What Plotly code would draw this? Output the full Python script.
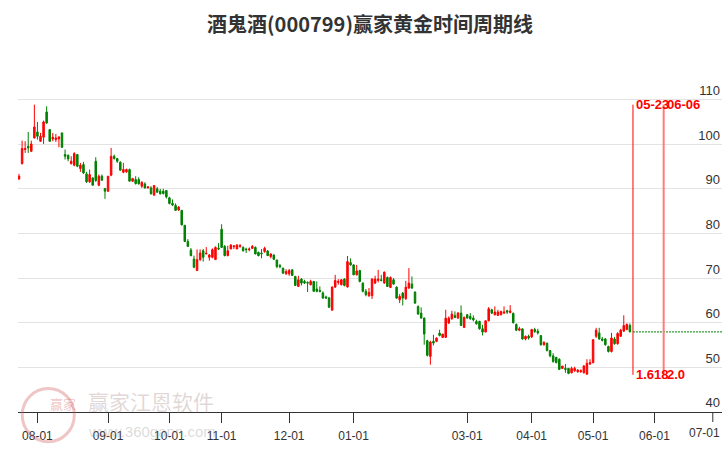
import pandas as pd
import plotly.graph_objects as go

# ---------------- data ----------------
title_text = "酒鬼酒(000799)赢家黄金时间周期线"

holidays = ["2023-09-29", "2023-10-02", "2023-10-03", "2023-10-04", "2023-10-05", "2023-10-06",
            "2024-01-01", "2024-02-09", "2024-02-12", "2024-02-13", "2024-02-14", "2024-02-15",
            "2024-02-16", "2024-04-04", "2024-04-05", "2024-05-01", "2024-05-02", "2024-05-03",
            "2024-06-10"]
first_day = "2023-07-24"
axis_end = "2024-07-04"

open_ = [92.24, 95.67, 98.81, 99.55, 98.43, 101.42, 102.76, 100.67, 101.57, 107.24,
         103.28, 101.19, 101.04, 101.19, 102.54, 97.69, 97.54, 95.67, 95.30, 97.69,
         94.55, 95.45, 93.36, 91.57, 92.46, 96.19, 90.82, 92.84, 90.07, 89.48,
         93.06, 97.31, 96.79, 95.97, 93.73, 93.81, 94.33, 91.72, 92.09, 92.09,
         90.59, 91.11, 90.22, 90.22, 88.59, 90.00, 89.48, 89.48, 89.63, 88.00,
         86.74, 86.30, 85.26, 85.19, 81.85, 78.22, 76.30, 74.30, 71.70, 74.15,
         76.15, 75.40, 74.67, 74.67, 74.15, 76.67, 80.96, 77.11, 75.04, 76.52,
         77.04, 76.52, 77.11, 76.89, 76.52, 76.37, 76.67, 76.89, 75.78, 75.63,
         75.93, 76.07, 74.81, 75.19, 74.07, 72.81, 72.22, 70.96, 70.96, 71.85,
         70.37, 68.15, 69.78, 69.26, 69.04, 68.52, 69.26, 67.56, 67.26, 66.67,
         65.78, 65.56, 62.81, 68.00, 69.04, 68.52, 69.78, 68.00, 73.48, 72.96,
         70.74, 71.70, 68.89, 67.04, 66.07, 66.07, 68.89, 69.48, 69.63, 68.89,
         70.15, 67.91, 69.63, 67.99, 65.15, 66.64, 65.37, 67.76, 68.66, 66.87,
         63.66, 62.16, 61.04, 55.97, 52.46, 55.82, 55.82, 57.69, 56.72, 56.72,
         59.93, 60.90, 61.64, 61.04, 62.16, 58.96, 61.79, 61.42, 61.04, 60.30,
         60.30, 58.66, 57.91, 60.45, 62.91, 61.79, 61.64, 61.79, 62.16, 62.69,
         62.27, 62.12, 59.62, 58.33, 58.64, 56.36, 56.97, 56.82, 58.48, 58.11,
         57.12, 55.08, 55.45, 53.79, 52.58, 52.27, 51.82, 49.77, 49.77, 49.77,
         48.79, 49.24, 49.02, 49.02, 48.79, 48.48, 50.76, 51.06, 56.97, 57.73,
         56.36, 56.36, 54.70, 53.56, 56.36, 55.30, 56.97, 58.11, 58.48, 59.39]

high = [93.36, 100.82, 100.67, 102.76, 100.82, 108.88, 105.00, 102.54, 105.30, 108.50,
        103.43, 102.54, 102.31, 101.79, 102.60, 98.81, 97.69, 97.31, 98.21, 97.84,
        95.82, 96.04, 93.81, 94.33, 92.61, 97.09, 93.21, 93.21, 90.22, 92.84,
        99.18, 97.69, 96.94, 96.19, 95.82, 94.55, 94.55, 92.46, 92.84, 92.61,
        91.70, 91.48, 90.60, 90.59, 90.74, 90.44, 90.00, 90.00, 89.70, 88.22,
        87.63, 86.74, 86.15, 85.26, 81.85, 78.74, 76.74, 75.04, 76.44, 76.44,
        76.52, 76.96, 75.41, 76.67, 77.11, 77.85, 82.07, 77.41, 77.26, 77.63,
        77.41, 77.63, 77.63, 77.11, 76.81, 76.89, 77.41, 77.11, 75.93, 76.52,
        77.04, 76.30, 75.56, 75.33, 74.07, 73.19, 72.37, 72.00, 72.07, 72.00,
        70.52, 70.52, 70.00, 69.63, 69.26, 69.63, 69.26, 69.26, 68.15, 67.04,
        66.07, 65.78, 68.15, 70.74, 69.78, 69.78, 70.00, 74.96, 74.44, 73.11,
        72.96, 71.85, 69.04, 67.56, 67.78, 70.00, 70.52, 71.85, 70.74, 71.48,
        70.37, 70.37, 70.00, 68.13, 66.42, 66.87, 69.40, 72.24, 70.37, 67.01,
        63.88, 63.43, 61.19, 56.19, 55.97, 57.31, 56.72, 58.43, 57.46, 62.91,
        61.42, 62.69, 62.54, 62.39, 63.88, 61.42, 61.94, 62.16, 61.64, 60.67,
        60.45, 59.55, 60.45, 63.51, 63.13, 63.66, 62.91, 62.69, 63.66, 62.91,
        63.94, 62.27, 59.85, 59.09, 58.64, 57.12, 57.35, 58.64, 58.86, 58.64,
        57.12, 55.83, 55.45, 53.79, 53.18, 52.27, 52.05, 50.30, 50.76, 49.77,
        50.15, 50.15, 49.62, 49.55, 50.53, 51.82, 51.82, 56.21, 58.86, 58.86,
        56.82, 56.59, 54.85, 57.73, 56.82, 57.88, 58.64, 61.67, 59.85, 59.85]

low = [92.01, 95.45, 98.06, 98.06, 98.28, 101.27, 101.04, 100.52, 100.07, 104.55,
       100.52, 100.67, 100.52, 99.33, 99.20, 96.57, 96.19, 95.45, 95.07, 94.85,
       93.81, 93.36, 91.34, 91.34, 90.82, 91.57, 90.60, 91.87, 87.76, 89.33,
       92.84, 96.57, 95.82, 94.10, 93.51, 93.58, 91.72, 91.57, 90.97, 90.97,
       90.22, 90.07, 90.10, 88.74, 88.52, 89.11, 88.74, 88.74, 87.85, 86.52,
       86.15, 85.04, 85.04, 81.85, 78.15, 76.96, 74.89, 72.22, 71.63, 73.85,
       73.70, 75.40, 73.93, 74.44, 74.15, 76.30, 76.81, 74.89, 74.89, 76.96,
       76.52, 76.52, 76.81, 75.93, 75.63, 76.00, 76.52, 75.33, 74.89, 74.44,
       75.70, 74.96, 74.44, 74.07, 72.22, 72.22, 70.96, 70.74, 70.52, 70.52,
       68.30, 68.00, 68.37, 68.67, 66.89, 68.37, 66.96, 66.81, 66.81, 65.33,
       65.33, 63.33, 62.81, 67.78, 68.52, 68.37, 68.15, 67.93, 72.81, 70.67,
       70.59, 69.04, 66.81, 65.93, 65.78, 65.33, 68.67, 69.04, 69.26, 68.74,
       68.06, 67.76, 68.51, 65.37, 64.40, 63.88, 65.15, 67.61, 67.61, 64.25,
       61.79, 60.90, 55.07, 52.46, 50.60, 54.93, 55.67, 56.94, 56.57, 56.72,
       59.70, 60.67, 61.04, 60.90, 59.33, 58.81, 60.90, 60.67, 60.30, 59.55,
       58.43, 57.16, 57.91, 60.30, 61.94, 61.64, 61.57, 61.64, 61.94, 61.94,
       62.12, 59.85, 58.11, 58.11, 56.21, 56.06, 56.21, 56.59, 57.73, 57.35,
       54.85, 54.85, 53.56, 52.27, 51.06, 50.91, 49.39, 49.62, 48.79, 48.48,
       48.64, 49.02, 48.79, 48.79, 48.64, 48.33, 50.53, 50.91, 56.59, 56.21,
       55.83, 54.85, 53.33, 53.33, 55.08, 55.08, 56.82, 57.95, 58.33, 57.88]

close = [92.84, 99.03, 99.03, 99.18, 100.07, 103.88, 101.79, 101.79, 105.00, 104.78,
         100.67, 101.57, 101.42, 101.64, 99.33, 97.31, 96.72, 96.19, 97.91, 95.07,
         95.30, 93.58, 91.57, 93.21, 90.82, 91.87, 92.84, 91.94, 89.48, 92.84,
         97.31, 96.79, 96.19, 94.18, 94.33, 94.33, 91.72, 92.31, 91.19, 91.12,
         91.48, 90.22, 90.44, 88.89, 90.74, 89.26, 88.89, 88.96, 88.22, 86.74,
         86.37, 85.19, 85.93, 81.93, 78.22, 77.11, 75.04, 72.44, 74.15, 75.63,
         74.67, 75.56, 75.19, 76.37, 76.89, 76.52, 76.89, 75.04, 76.15, 77.41,
         77.19, 77.41, 77.26, 76.15, 76.37, 76.52, 77.11, 75.41, 75.04, 75.48,
         76.67, 75.04, 75.41, 74.22, 72.59, 72.59, 71.11, 71.48, 71.70, 70.59,
         68.37, 69.63, 68.89, 68.89, 68.89, 69.26, 67.04, 67.04, 67.04, 65.56,
         65.56, 63.48, 68.00, 69.48, 69.26, 69.63, 68.37, 73.70, 72.96, 70.74,
         71.63, 69.26, 67.04, 66.30, 66.81, 69.78, 69.78, 69.78, 69.48, 71.33,
         68.13, 70.15, 68.66, 65.52, 65.90, 65.52, 67.99, 68.88, 67.76, 64.40,
         61.94, 61.04, 57.46, 52.69, 55.67, 55.45, 56.57, 57.16, 57.46, 61.04,
         61.04, 61.94, 61.19, 62.16, 59.40, 61.19, 61.04, 60.90, 60.67, 59.78,
         58.66, 57.91, 60.45, 63.13, 62.16, 62.39, 62.39, 62.54, 62.39, 62.39,
         62.65, 60.00, 58.33, 58.64, 56.36, 56.97, 56.59, 58.48, 58.03, 57.73,
         55.08, 55.61, 53.79, 52.58, 51.29, 51.06, 49.55, 50.30, 49.55, 48.64,
         49.77, 49.77, 49.39, 49.24, 50.30, 50.91, 51.06, 56.21, 58.33, 56.36,
         56.06, 55.08, 53.56, 56.59, 55.30, 57.58, 58.33, 59.39, 59.62, 57.95]

cycle_dates = ["2024-05-23", "2024-06-06"]
cycle_ratios = ["1.618", "2.0"]

tick_months = ["2023-08", "2023-09", "2023-10", "2023-11", "2023-12",
               "2024-01", "2024-03", "2024-04", "2024-05", "2024-06"]
edge_month = "2024-07"   # last month label, kept inside the right edge
y_ticks = [40, 50, 60, 70, 80, 90, 100, 110]

# ---------------- trading calendar -> trading-day index ----------------
hol = set(pd.to_datetime(holidays))
cal = [d for d in pd.bdate_range(first_day, axis_end) if d not in hol]
cal_str = [d.strftime("%Y-%m-%d") for d in cal]
pos = {s: i for i, s in enumerate(cal_str)}
xs = [pos[s] for s in cal_str[:len(close)]]


def month_start(m):
    return pos[next(s for s in cal_str if s[:7] == m)]


tickvals = [month_start(m) for m in tick_months]
ticktext = [m[5:] + "-01" for m in tick_months]

# ---------------- figure ----------------
RED = "#ff0000"
GREEN = "#008000"
AX = "#333333"

fig = go.Figure()
fig.add_trace(go.Candlestick(
    x=xs, open=open_, high=high, low=low, close=close,
    increasing=dict(line=dict(color=RED, width=1), fillcolor=RED),
    decreasing=dict(line=dict(color=GREEN, width=1), fillcolor=GREEN),
    whiskerwidth=0, showlegend=False, hoverinfo="skip",
))

# extension of last close
fig.add_trace(go.Scatter(
    x=[pos[cycle_dates[0]], pos[cal_str[-1]]], y=[close[-1], close[-1]], mode="lines",
    line=dict(color=GREEN, width=1, dash="2px,1px"), showlegend=False, hoverinfo="skip",
))

y_top = max(high)
y_bot = min(low)
line_styles = [dict(color=RED, width=1), dict(color="#ff7b7b", width=2)]
for d, ratio, st in zip(cycle_dates, cycle_ratios, line_styles):
    xi = pos[d]
    fig.add_trace(go.Scatter(x=[xi, xi], y=[y_bot, y_top], mode="lines", line=st,
                             showlegend=False, hoverinfo="skip"))
    fig.add_annotation(x=xi, y=y_top, text="<b>%s</b>" % d[5:], showarrow=False,
                       xanchor="left", yanchor="middle", xshift=1,
                       font=dict(family="Liberation Sans, Arial", size=13, color=RED))
    fig.add_annotation(x=xi, y=y_bot, text="<b>%s</b>" % ratio, showarrow=False,
                       xanchor="left", yanchor="middle", xshift=1,
                       font=dict(family="Liberation Sans, Arial", size=13, color=RED))

# last month tick (at the right edge): tick mark + label shifted to stay inside
xe = month_start(edge_month)
fig.add_shape(type="line", xref="x", yref="paper", ysizemode="pixel", yanchor=0,
              x0=xe, x1=xe, y0=0, y1=-10, line=dict(color=AX, width=1))
fig.add_annotation(x=xe, xref="x", y=0, yref="paper", text=edge_month[5:] + "-01",
                   showarrow=False, xanchor="right", yanchor="top", xshift=9, yshift=-12,
                   font=dict(family="Liberation Sans, Arial", size=12, color=AX))

# watermark
fig.add_shape(type="circle", xref="paper", yref="paper",
              x0=0.006, x1=0.080, y0=-0.083, y1=0.066,
              line=dict(color="rgba(210,90,90,0.35)", width=3), fillcolor="rgba(255,255,255,0)")
fig.add_annotation(xref="paper", yref="paper", x=0.043, y=-0.008, text="赢家", showarrow=False,
                   font=dict(family="Noto Sans CJK SC", size=13, color="rgba(210,90,90,0.35)"))
fig.add_annotation(xref="paper", yref="paper", x=0.097, y=0.030, xanchor="left", yanchor="middle",
                   text="赢家江恩软件", showarrow=False,
                   font=dict(family="Noto Sans CJK SC", size=21, color="rgba(170,140,140,0.35)"))
fig.add_annotation(xref="paper", yref="paper", x=0.097, y=-0.055, xanchor="left", yanchor="middle",
                   text="www.360gann.com", showarrow=False,
                   font=dict(family="Liberation Sans, Arial", size=15, color="rgba(150,150,150,0.35)"))

fig.update_layout(
    width=726, height=450,
    margin=dict(l=18, r=4, t=55, b=38, autoexpand=False),
    paper_bgcolor="white", plot_bgcolor="white",
    title=dict(text="<b>%s</b>" % title_text, xref="paper", x=0.5, xanchor="center",
               y=0.945, yanchor="middle",
               font=dict(family="Noto Sans CJK SC", size=20, color=AX)),
    xaxis=dict(
        type="linear", range=[-0.33, len(cal_str) - 1], automargin=False,
        tickmode="array", tickvals=tickvals, ticktext=ticktext, tickangle=0,
        ticks="outside", ticklen=10, tickcolor=AX, tickwidth=1,
        ticklabelstandoff=3,
        showline=True, linecolor=AX, linewidth=1,
        showgrid=False, zeroline=False,
        rangeslider=dict(visible=False),
        tickfont=dict(family="Liberation Sans, Arial", size=12, color=AX),
    ),
    yaxis=dict(
        side="right", range=[40, 120], tickvals=y_ticks, automargin=False,
        ticklabelposition="inside top", ticks="", ticklabelstandoff=-1,
        showgrid=True, gridcolor="#e3e3e3", gridwidth=1,
        zeroline=False, showline=False,
        tickfont=dict(family="Liberation Sans, Arial", size=13, color=AX),
    ),
)

fig.write_html("out.html", config={"displayModeBar": False},
               post_script="document.body.style.margin='0px';")
